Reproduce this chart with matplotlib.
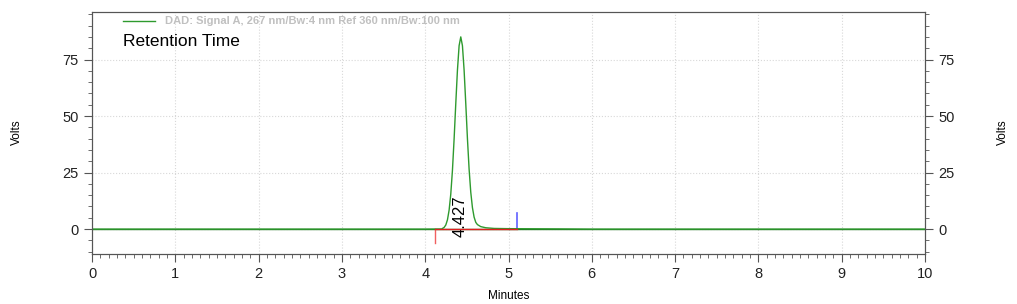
import matplotlib
matplotlib.use("Agg")
import matplotlib.pyplot as plt
from matplotlib.ticker import MultipleLocator

plt.rcParams['font.family'] = ['Liberation Sans', 'DejaVu Sans']

# chromatogram trace (minutes, volts)
times = [0.0, 2.0, 4.0, 4.20, 4.207, 4.227, 4.247, 4.267, 4.287, 4.307, 4.327, 4.347,
         4.367, 4.387, 4.407, 4.427, 4.447, 4.467, 4.487, 4.507, 4.527, 4.547,
         4.567, 4.587, 4.607, 4.627, 4.667, 4.727, 4.827, 5.0, 5.3, 5.6, 6.0, 10.0]
volts = [0.0, 0.0, 0.0, 0.05, 0.3, 0.75, 1.8, 4.1, 8.4, 15.5, 26.0, 39.9,
         55.5, 70.3, 81.1, 85.0, 81.1, 70.3, 55.5, 40.0, 26.5, 16.3,
         9.5, 5.3, 3.0, 2.0, 1.1, 0.6, 0.3, 0.2, 0.15, 0.1, 0.0, 0.0]

peak_time = 4.427
peak_label = "4.427"
start_mark = 4.12
end_mark = 5.10

yticks = [0, 25, 50, 75]
xticks = list(range(0, 11))

fig = plt.figure(figsize=(10.17, 3.04), dpi=100)
ax = fig.add_axes([0.0905, 0.1645, 0.819, 0.796])

gray = '#555555'
ax.axhline(0, color='#1a6e1a', lw=1.0, zorder=1)
ax.plot(times, volts, color='#2e9a2e', lw=1.0, zorder=3)
ax.plot([start_mark, end_mark], [0, 0], color='#e02020', lw=1.0, zorder=4)
ax.plot([start_mark, start_mark], [0, -6], color='#f06060', lw=1.0)
ax.plot([end_mark, end_mark], [0, 7], color='#6060ff', lw=1.2)

ax.set_xlim(0, 10)
ax.set_ylim(-11, 96)
ax.set_xticks(xticks)
ax.set_yticks(yticks)
ax.xaxis.set_minor_locator(MultipleLocator(0.1))
ax.yaxis.set_minor_locator(MultipleLocator(5))
ax.grid(True, which='major', color='#d8d8d8', ls=':', lw=0.8)
ax.set_axisbelow(True)

for s in ax.spines.values():
    s.set_color(gray)
ax.tick_params(which='both', colors=gray, labelcolor='#222222', labelsize=10.5)
ax.tick_params(which='major', length=6)
ax.tick_params(which='minor', length=3)

ax2 = ax.twinx()
ax2.set_ylim(ax.get_ylim())
ax2.set_yticks(yticks)
ax2.yaxis.set_minor_locator(MultipleLocator(5))
ax2.tick_params(which='both', colors=gray, labelcolor='#222222', labelsize=10.5)
ax2.tick_params(which='major', length=6)
ax2.tick_params(which='minor', length=3)
for s in ax2.spines.values():
    s.set_color(gray)

ax.set_xlabel("Minutes", fontsize=8.5, labelpad=6)
fig.text(0.017, 0.565, "Volts", rotation=90, fontsize=8.5, ha='center', va='center')
fig.text(0.986, 0.565, "Volts", rotation=90, fontsize=8.5, ha='center', va='center')

ax.text(peak_time - 0.01, -3.5, peak_label, rotation=90, fontsize=12, ha='center', va='bottom')
ax.text(0.37, 83, "Retention Time", fontsize=12.5, ha='left', va='center')

ax.plot([0.37, 0.76], [92, 92], color='#2e9a2e', lw=1.0)
ax.text(0.88, 92, "DAD: Signal A, 267 nm/Bw:4 nm Ref 360 nm/Bw:100 nm",
        fontsize=8, color='#c0c0c0', fontweight='bold', ha='left', va='center')

fig.savefig("out.png", dpi=100)
